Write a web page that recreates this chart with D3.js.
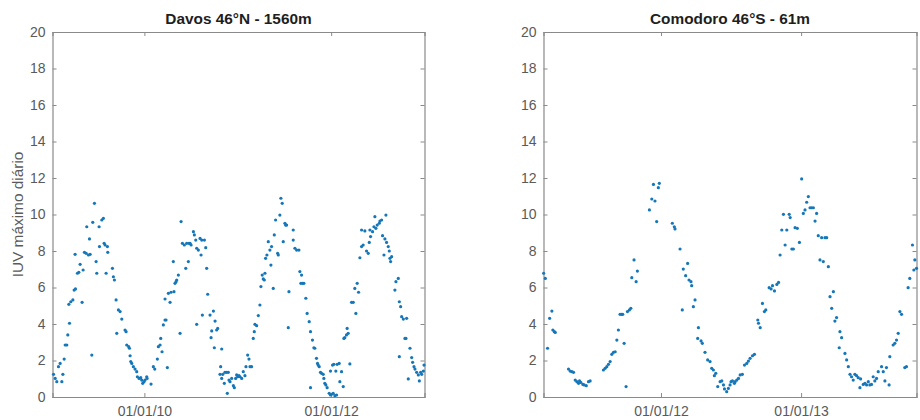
<!DOCTYPE html>
<html>
<head>
<meta charset="utf-8">
<script src="https://cdn.jsdelivr.net/npm/d3@7"></script>
<style>
  body { margin: 0; background: #fff; }
  svg { display: block; font-family: "Liberation Sans", Arial, sans-serif; }
</style>
</head>
<body>
<svg class="canvas" width="920" height="420"></svg>
<script>
// daily max UV index, [decimal year, IUV]
const davosPoints = [
  [2009.027,1.24],[2009.045,1.02],[2009.062,0.84],[2009.080,1.66],[2009.098,1.84],[2009.116,0.84],
  [2009.127,1.24],[2009.141,2.08],[2009.152,2.85],[2009.169,2.85],[2009.180,3.40],[2009.198,4.04],
  [2009.191,5.08],[2009.212,5.22],[2009.234,5.32],[2009.248,5.86],[2009.262,5.92],[2009.258,7.82],
  [2009.283,6.78],[2009.298,6.83],[2009.312,7.27],[2009.333,5.19],[2009.344,6.96],[2009.358,7.93],
  [2009.376,7.87],[2009.383,9.33],[2009.401,7.78],[2009.412,8.66],[2009.419,7.82],[2009.437,2.30],
  [2009.447,9.57],[2009.465,10.61],[2009.483,7.42],[2009.490,6.78],[2009.515,9.33],[2009.519,8.24],
  [2009.544,9.70],[2009.561,9.79],[2009.569,8.42],[2009.579,8.33],[2009.590,6.78],[2009.604,8.24],
  [2009.608,7.93],[2009.658,7.05],[2009.668,6.59],[2009.679,6.41],[2009.697,5.32],[2009.704,3.49],
  [2009.722,4.77],[2009.740,4.68],[2009.758,4.27],[2009.793,3.67],[2009.804,3.58],[2009.811,2.85],
  [2009.832,2.76],[2009.840,2.67],[2009.847,2.26],[2009.854,1.94],[2009.865,1.84],[2009.882,1.66],
  [2009.900,1.53],[2009.918,1.39],[2009.925,1.11],[2009.943,1.02],[2009.961,1.06],[2009.971,0.93],
  [2009.982,0.75],[2009.996,0.84],[2010.007,0.93],[2010.025,1.11],[2010.029,1.02],[2010.071,0.71],
  [2010.096,1.66],[2010.111,1.53],[2010.139,2.08],[2010.150,2.76],[2010.168,2.85],[2010.175,3.21],
  [2010.189,2.48],[2010.203,3.95],[2010.221,4.22],[2010.232,4.22],[2010.221,5.37],[2010.246,1.61],
  [2010.257,5.68],[2010.275,5.19],[2010.285,5.74],[2010.310,7.42],[2010.317,5.77],[2010.328,6.23],
  [2010.339,6.32],[2010.364,6.68],[2010.346,6.41],[2010.382,3.49],[2010.393,9.61],[2010.407,8.42],
  [2010.428,8.33],[2010.443,7.05],[2010.453,8.42],[2010.471,7.42],[2010.478,8.42],[2010.489,8.42],
  [2010.500,8.33],[2010.525,9.06],[2010.535,8.88],[2010.550,8.60],[2010.560,8.15],[2010.578,8.05],
  [2010.596,8.69],[2010.607,7.78],[2010.614,8.60],[2010.643,8.60],[2010.657,8.18],[2010.667,7.05],
  [2010.678,5.63],[2010.621,4.49],[2010.560,3.98],[2010.703,4.49],[2010.714,3.25],[2010.721,3.62],
  [2010.739,4.71],[2010.757,4.16],[2010.774,3.67],[2010.785,3.76],[2010.749,2.70],[2010.828,2.63],
  [2010.817,1.66],[2010.810,1.24],[2010.828,1.02],[2010.839,1.24],[2010.856,0.75],[2010.863,1.35],
  [2010.881,1.35],[2010.888,0.20],[2010.899,1.35],[2010.906,0.93],[2010.917,0.84],[2010.935,1.02],
  [2010.953,0.62],[2010.963,0.51],[2010.977,1.02],[2010.988,1.21],[2010.999,1.11],[2011.013,1.17],
  [2011.024,1.11],[2011.042,1.02],[2011.059,1.39],[2011.077,1.17],[2011.088,1.66],[2011.106,2.30],
  [2011.120,2.08],[2011.131,1.66],[2011.148,1.66],[2011.166,3.21],[2011.177,3.58],[2011.184,3.98],
  [2011.202,3.91],[2011.220,4.46],[2011.237,5.04],[2011.248,6.05],[2011.262,6.68],[2011.273,6.47],
  [2011.284,6.41],[2011.291,6.78],[2011.298,7.60],[2011.312,7.78],[2011.327,8.51],[2011.344,8.05],
  [2011.355,7.23],[2011.362,8.24],[2011.380,5.95],[2011.391,8.88],[2011.405,9.70],[2011.427,7.87],
  [2011.434,7.78],[2011.451,9.97],[2011.462,10.89],[2011.476,10.61],[2011.487,8.51],[2011.505,9.52],
  [2011.512,9.42],[2011.523,9.42],[2011.548,5.77],[2011.541,3.80],[2011.594,9.15],[2011.594,8.60],
  [2011.612,8.15],[2011.630,8.05],[2011.655,8.05],[2011.665,6.87],[2011.676,6.23],[2011.683,6.68],
  [2011.694,6.23],[2011.708,6.23],[2011.729,5.41],[2011.743,4.58],[2011.765,4.13],[2011.779,3.58],
  [2011.800,3.12],[2011.815,2.70],[2011.825,2.67],[2011.843,2.12],[2011.854,1.84],[2011.861,1.75],
  [2011.872,1.66],[2011.886,1.35],[2011.897,1.30],[2011.915,1.24],[2011.922,1.02],[2011.932,0.75],
  [2011.943,0.66],[2011.957,0.51],[2011.979,0.20],[2011.993,0.11],[2012.004,0.15],[2012.022,0.20],
  [2012.040,0.07],[2012.058,0.11],[2011.779,0.51],[2011.993,1.42],[2012.015,1.75],[2012.029,1.79],
  [2012.050,1.42],[2012.064,1.79],[2012.086,1.84],[2012.093,0.84],[2012.111,1.39],[2012.129,0.57],
  [2012.136,3.21],[2012.146,3.25],[2012.164,3.40],[2012.171,3.76],[2012.182,3.49],[2012.200,1.81],
  [2012.218,5.19],[2012.236,5.19],[2012.264,4.58],[2012.253,5.95],[2012.278,6.23],[2012.293,5.74],
  [2012.307,7.63],[2012.325,8.24],[2012.342,8.33],[2012.325,9.15],[2012.360,9.10],[2012.378,8.00],
  [2012.396,7.87],[2012.407,8.47],[2012.421,8.79],[2012.414,9.15],[2012.442,9.06],[2012.457,9.33],
  [2012.467,9.88],[2012.478,9.24],[2012.492,9.42],[2012.514,9.52],[2012.521,9.64],[2012.539,9.70],
  [2012.549,8.84],[2012.564,7.78],[2012.574,8.66],[2012.585,9.97],[2012.592,8.47],[2012.610,8.24],
  [2012.621,8.00],[2012.628,7.60],[2012.635,7.42],[2012.646,7.69],[2012.681,5.86],[2012.692,6.32],
  [2012.717,6.50],[2012.728,5.22],[2012.742,4.95],[2012.753,4.40],[2012.771,4.27],[2012.788,3.21],
  [2012.799,3.21],[2012.806,4.31],[2012.728,2.21],[2012.824,0.99],[2012.842,2.67],[2012.860,2.16],
  [2012.870,1.90],[2012.885,1.66],[2012.895,1.53],[2012.913,1.35],[2012.931,1.21],[2012.942,0.88],
  [2012.956,1.35],[2012.967,1.24],[2012.985,1.42],[2012.992,1.75]
];

const comodoroPoints = [
  [2011.160,6.78],[2011.172,6.50],[2011.188,2.67],[2011.203,4.31],[2011.219,4.71],[2011.226,3.67],
  [2011.236,3.58],[2011.243,3.54],[2011.338,1.53],[2011.350,1.42],[2011.362,1.39],[2011.374,1.35],
  [2011.386,0.93],[2011.398,0.84],[2011.410,0.75],[2011.417,0.88],[2011.426,0.80],[2011.441,0.69],
  [2011.450,0.66],[2011.465,0.62],[2011.481,0.84],[2011.493,0.88],[2011.588,1.48],[2011.600,1.57],
  [2011.612,1.66],[2011.624,1.79],[2011.636,1.94],[2011.648,2.34],[2011.660,2.45],[2011.672,2.48],
  [2011.684,3.12],[2011.695,3.67],[2011.707,4.53],[2011.719,4.53],[2011.726,4.53],[2011.736,2.94],
  [2011.750,0.57],[2011.760,4.68],[2011.774,4.77],[2011.784,4.86],[2011.791,6.54],[2011.807,7.51],
  [2011.822,6.32],[2011.831,6.90],[2011.917,10.25],[2011.934,10.85],[2011.946,11.65],[2011.957,10.74],
  [2011.969,9.61],[2011.981,11.47],[2011.988,11.71],[2012.081,9.52],[2012.095,9.33],[2012.100,9.21],
  [2012.136,8.11],[2012.159,7.01],[2012.176,6.65],[2012.190,7.32],[2012.200,6.41],[2012.214,6.32],
  [2012.219,6.10],[2012.231,4.95],[2012.243,5.32],[2012.152,4.77],[2012.267,3.80],[2012.262,3.21],
  [2012.286,3.07],[2012.295,2.94],[2012.314,2.45],[2012.333,2.03],[2012.350,1.94],[2012.362,1.57],
  [2012.374,1.48],[2012.381,1.17],[2012.391,1.30],[2012.405,0.57],[2012.422,0.84],[2012.434,0.88],
  [2012.446,0.66],[2012.453,0.44],[2012.469,0.29],[2012.481,0.47],[2012.493,0.66],[2012.500,0.84],
  [2012.510,0.88],[2012.524,0.75],[2012.529,0.84],[2012.541,0.93],[2012.553,1.02],[2012.565,1.21],
  [2012.581,1.24],[2012.596,1.75],[2012.612,1.84],[2012.624,1.97],[2012.636,2.12],[2012.653,2.26],
  [2012.667,2.34],[2012.696,4.04],[2012.708,3.80],[2012.691,4.22],[2012.724,5.13],[2012.738,4.68],
  [2012.748,4.77],[2012.772,5.99],[2012.786,5.92],[2012.796,6.10],[2012.810,5.81],[2012.827,6.17],
  [2012.839,6.28],[2012.850,7.78],[2012.862,9.15],[2012.874,10.01],[2012.886,8.33],[2012.898,9.15],
  [2012.915,10.01],[2012.922,9.83],[2012.934,8.11],[2012.957,9.28],[2012.973,9.24],[2012.945,8.11],
  [2012.988,8.47],[2013.004,11.95],[2013.016,10.06],[2013.028,10.25],[2013.040,10.67],[2013.052,10.98],
  [2013.064,10.37],[2013.076,10.37],[2013.088,10.37],[2013.100,9.64],[2013.111,10.06],[2013.123,8.84],
  [2013.135,7.51],[2013.147,8.73],[2013.159,7.42],[2013.171,8.73],[2013.183,8.73],[2013.195,7.14],
  [2013.207,5.50],[2013.219,4.86],[2013.231,5.77],[2013.242,4.16],[2013.254,4.35],[2013.278,3.58],
  [2013.290,3.25],[2013.273,2.70],[2013.314,2.39],[2013.326,2.03],[2013.338,1.66],[2013.350,1.24],
  [2013.361,1.11],[2013.373,0.93],[2013.385,1.24],[2013.397,1.17],[2013.409,1.06],[2013.421,0.51],
  [2013.426,0.99],[2013.445,0.69],[2013.457,0.75],[2013.469,0.66],[2013.481,0.84],[2013.492,0.66],
  [2013.504,0.69],[2013.516,1.11],[2013.528,0.88],[2013.540,1.02],[2013.552,1.39],[2013.576,1.66],
  [2013.588,1.39],[2013.600,0.88],[2013.611,1.61],[2013.630,0.66],[2013.635,2.21],[2013.659,2.85],
  [2013.671,2.94],[2013.683,3.12],[2013.695,3.49],[2013.707,4.68],[2013.719,4.53],[2013.742,1.61],
  [2013.754,1.66],[2013.766,5.99],[2013.778,6.50],[2013.797,8.33],[2013.807,6.96],[2013.814,7.51],
  [2013.826,7.05]
];

const titles = ["Davos 46°N - 1560m", "Comodoro 46°S - 61m"];
const yLabel = "IUV máximo diário";
const yTicks = [0, 2, 4, 6, 8, 10, 12, 14, 16, 18, 20];
const davosDomain = [2009.016, 2012.997];
const comodoroDomain = [2011.159, 2013.826];
const davosTicks = ["2010-01-01", "2012-01-01"];
const comodoroTicks = ["2012-01-01", "2013-01-01"];

// decimal year -> Date
const toDate = (y) => {
  const yr = Math.floor(y);
  const a = Date.UTC(yr, 0, 1);
  const b = Date.UTC(yr + 1, 0, 1);
  return new Date(a + (y - yr) * (b - a));
};

const svg = d3.select(".canvas");
const plotTop = 32;
const plotBottom = 397;
const axisColor = "#8a8a8a";
const labelColor = "#5a5a5a";
const dotColor = "#1677b8";
const formatTick = d3.utcFormat("%d/%m/%y");

const yScale = d3.scaleLinear().domain([0, 20]).range([plotBottom, plotTop]);

function drawPanel(points, domain, ticks, title, left, right, withLabel) {
  const g = svg.append("g");
  const xScale = d3
    .scaleUtc()
    .domain(domain.map(toDate))
    .range([left, right]);
  const tickDates = ticks.map((t) => new Date(t + "T00:00:00Z"));

  // axes, ticks pointing inward
  const xBottom = d3.axisBottom(xScale).tickValues(tickDates).tickSize(-4).tickPadding(9).tickFormat(formatTick);
  const xTop = d3.axisTop(xScale).tickValues(tickDates).tickSize(-4).tickFormat("");
  const yLeft = d3.axisLeft(yScale).tickValues(yTicks).tickSize(-4).tickPadding(7);
  const yRight = d3.axisRight(yScale).tickValues(yTicks).tickSize(-4).tickFormat("");

  g.append("g").attr("transform", `translate(0, ${plotBottom})`).call(xBottom);
  g.append("g").attr("transform", `translate(0, ${plotTop})`).call(xTop);
  g.append("g").attr("transform", `translate(${left}, 0)`).call(yLeft);
  g.append("g").attr("transform", `translate(${right}, 0)`).call(yRight);

  g.selectAll(".domain").attr("stroke", axisColor).attr("stroke-width", 1.2);
  g.selectAll(".tick line").attr("stroke", axisColor);
  g.selectAll(".tick text")
    .attr("fill", labelColor)
    .style("font-size", "14px")
    .style("font-family", '"Liberation Sans", Arial, sans-serif');

  // dots
  g.append("g")
    .selectAll("circle")
    .data(points)
    .enter()
    .append("circle")
    .attr("cx", (d) => xScale(toDate(d[0])))
    .attr("cy", (d) => yScale(d[1]))
    .attr("r", 1.6)
    .attr("fill", dotColor);

  // title
  g.append("text")
    .attr("x", (left + right) / 2)
    .attr("y", 23.5)
    .attr("text-anchor", "middle")
    .style("font-size", "15.4px")
    .style("font-weight", "bold")
    .attr("fill", "#1e1e1e")
    .text(title);

  if (withLabel) {
    svg
      .append("text")
      .attr("transform", `translate(23, ${(plotTop + plotBottom) / 2}) rotate(-90)`)
      .attr("text-anchor", "middle")
      .style("font-size", "15.4px")
      .attr("fill", labelColor)
      .text(yLabel);
  }
}

drawPanel(davosPoints, davosDomain, davosTicks, titles[0], 52.5, 424.5, true);
drawPanel(comodoroPoints, comodoroDomain, comodoroTicks, titles[1], 543.5, 916.5, false);
</script>
</body>
</html>
